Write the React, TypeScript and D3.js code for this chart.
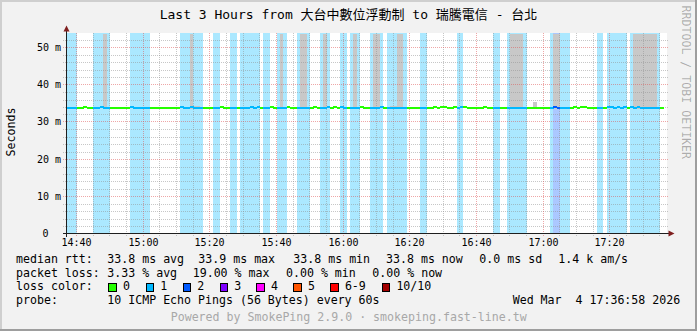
import React from 'react';
import * as d3 from 'd3';

// ---------- data ----------
const titleText = 'Last 3 Hours from 大台中數位浮動制 to 瑞騰電信 - 台北';
const yAxisTitle = 'Seconds';
const watermark = 'RRDTOOL / TOBI OETIKER';
const startTime = '14:37';
const endTime = '17:37';
const dataEnd = '17:36';
const yMax = 53.76;

const xMajorTicks = ['14:40', '15:00', '15:20', '15:40', '16:00', '16:20', '16:40', '17:00', '17:20'];
const yTickValues = [0, 10, 20, 30, 40, 50];
const yTickLabels = ['0', '10 m', '20 m', '30 m', '40 m', '50 m'];

// loss runs: start, end, lost pings (of 10)
const lossStarts = ['14:37', '14:45', '14:56', '15:11', '15:21', '15:26', '15:29', '15:36', '15:40', '15:46', '15:53', '15:59', '16:02', '16:08', '16:13', '16:23', '16:34', '16:45', '16:49', '17:02', '17:03', '17:05', '17:16', '17:19', '17:26'];
const lossEnds = ['14:40', '14:50', '15:02', '15:18', '15:23', '15:28', '15:35', '15:38', '15:43', '15:50', '15:56', '16:01', '16:05', '16:12', '16:19', '16:25', '16:36', '16:47', '16:55', '17:03', '17:05', '17:08', '17:18', '17:25', '17:35'];
const lossCounts = [1, 1, 1, 1, 1, 1, 1, 1, 1, 1, 1, 1, 1, 1, 1, 1, 1, 1, 1, 1, 2, 1, 1, 1, 1];

// smoke runs: start, end, low rtt, high rtt (ms)
const smokeStarts = ['14:48', '15:14', '15:15', '15:41', '15:47', '15:54', '16:03', '16:09', '16:14', '16:16', '16:50', '16:57', '17:03', '17:27'];
const smokeEnds = ['14:49', '15:15', '15:17', '15:42', '15:49', '15:55', '16:04', '16:11', '16:16', '16:18', '16:54', '16:58', '17:05', '17:34'];
const smokeLows = [33.4, 33.4, 33.4, 33.4, 33.4, 33.4, 33.4, 33.4, 33.4, 33.4, 33.4, 33.4, 33.4, 33.4];
const smokeHighs = [60, 60, 34.3, 60, 60, 60, 60, 60, 34.4, 60, 60, 35.3, 60, 60];

// median rtt: base value and slightly higher runs
const medianBase = 33.8;
const bumpStarts = ['14:42', '14:47', '14:56', '15:11', '15:14', '15:23', '15:32', '15:34', '15:38', '15:43', '15:51', '15:55', '15:57', '15:59', '16:05', '16:11', '16:27', '16:29', '16:33', '16:35', '16:42', '17:03', '17:09', '17:11', '17:19', '17:22', '17:24', '17:26', '17:28'];
const bumpEnds = ['14:43', '14:48', '14:57', '15:12', '15:15', '15:24', '15:33', '15:35', '15:39', '15:44', '15:52', '15:56', '15:58', '16:00', '16:06', '16:12', '16:28', '16:31', '16:34', '16:37', '16:43', '17:04', '17:10', '17:13', '17:21', '17:23', '17:25', '17:27', '17:29'];
const bumpValues = [34.05, 34.05, 34.05, 34.05, 34.05, 34.05, 34.05, 34.05, 34.05, 34.05, 34.05, 34.05, 34.05, 34.05, 34.05, 34.05, 34.05, 34.05, 34.05, 34.05, 34.05, 34.05, 34.05, 34.05, 34.05, 34.05, 34.05, 34.05, 34.05];

const lossColors = ['#26ff00', '#00b8ff', '#0059ff', '#7e00ff', '#ff00ff', '#ff5500', '#ff0000', '#a10000'];
const lossLabels = ['0', '1', '2', '3', '4', '5', '6-9', '10/10'];

const legendRow1 = ['median rtt:', '33.8 ms avg', '33.9 ms max', '33.8 ms min', '33.8 ms now', '0.0 ms sd', '1.4 k am/s'];
const legendRow2 = ['packet loss:', '3.33 % avg', '19.00 % max', '0.00 % min', '0.00 % now'];
const legendRow3Label = 'loss color:';
const legendRow4 = ['probe:', '10 ICMP Echo Pings (56 Bytes) every 60s'];
const dateText = 'Wed Mar\u00a0\u00a04 17:36:58 2026';
const footerText = 'Powered by SmokePing 2.9.0 · smokeping.fast-line.tw';

// ---------- layout ----------
const W = 697;
const H = 331;
const row1X = [16, 107.3, 198.3, 293.3, 386, 479.3, 558.3];
const row2X = [16, 107.3, 192.7, 286, 372.3];
const row4X = [16, 107.3];
const boxX = [108.3, 145.5, 182.6, 219.5, 256.4, 293.3, 330.2, 381.7];
const rowY = [262.7, 276.5, 290.2, 304];

const mono = "'DejaVu Sans Mono', 'Noto Sans CJK TC', monospace";

const tp = (s: string) => {
  const [h, m] = s.split(':').map(Number);
  return new Date(2026, 2, 4, h, m);
};

function lossIndex(n: number) {
  if (n <= 5) return n;
  if (n < 10) return 6;
  return 7;
}

export default function App() {
  const x = d3.scaleTime().domain([tp(startTime), tp(endTime)]).range([66.5, 666.5]);
  const y = d3.scaleLinear().domain([0, yMax]).range([233.5, 33.5]);

  const plotTop = 33;
  const plotBottom = 233.5;

  const minutes: Date[] = d3.timeMinute.range(tp(startTime), tp(dataEnd));
  const lossAt = (d: Date) => {
    for (let i = 0; i < lossStarts.length; i++) {
      if (d >= tp(lossStarts[i]) && d < tp(lossEnds[i])) return lossCounts[i];
    }
    return 0;
  };
  const medianAt = (d: Date) => {
    for (let i = 0; i < bumpStarts.length; i++) {
      if (d >= tp(bumpStarts[i]) && d < tp(bumpEnds[i])) return bumpValues[i];
    }
    return medianBase;
  };

  const minorX = d3.timeMinute
    .every(5)!
    .range(tp('14:40'), tp(endTime))
    .filter((d) => d.getMinutes() % 20 !== 0);
  const majorX = xMajorTicks.map(tp);
  const minorY = d3.range(2, yMax, 2).filter((v) => v % 10 !== 0);
  const majorY = yTickValues.filter((v) => v > 0);

  const gridMinor = 'rgba(143,143,143,0.5)';
  const gridMajor = 'rgba(222,79,79,0.5)';

  return (
    <svg
      width={W}
      height={H}
      style={{ position: 'absolute', left: 0, top: 0, display: 'block' }}
      xmlns="http://www.w3.org/2000/svg"
    >
      <rect x={0} y={0} width={W} height={H} fill="#f2f2f2" />
      <rect x={0} y={0} width={W} height={2} fill="#cfcfcf" />
      <rect x={0} y={0} width={2} height={H} fill="#cfcfcf" />
      <rect x={0} y={H - 2} width={W} height={2} fill="#9e9e9e" />
      <rect x={W - 2} y={0} width={2} height={H} fill="#9e9e9e" />

      <rect x={67} y={plotTop} width={600} height={plotBottom - plotTop} fill="#ffffff" />

      <g shapeRendering="crispEdges">
        {lossStarts.map((s, i) => (
          <rect
            key={'l' + i}
            x={x(tp(s))}
            y={plotTop}
            width={x(tp(lossEnds[i])) - x(tp(s))}
            height={plotBottom - plotTop}
            fill={lossColors[lossIndex(lossCounts[i])]}
            fillOpacity={0.33}
          />
        ))}
      </g>

      <g shapeRendering="crispEdges">
        {smokeStarts.map((s, i) => {
          const top = Math.max(plotTop, y(Math.min(smokeHighs[i], yMax)));
          const bot = y(smokeLows[i]);
          return (
            <rect
              key={'s' + i}
              x={x(tp(s))}
              y={top}
              width={x(tp(smokeEnds[i])) - x(tp(s))}
              height={bot - top}
              fill="#c8c8c8"
            />
          );
        })}
      </g>

      <g strokeDasharray="1,1" strokeWidth={1} shapeRendering="crispEdges">
        {minorY.map((v) => (
          <line key={'my' + v} x1={63} x2={669} y1={Math.round(y(v)) + 0.5} y2={Math.round(y(v)) + 0.5} stroke={gridMinor} />
        ))}
        {minorX.map((d, i) => (
          <line key={'mx' + i} x1={Math.floor(x(d)) + 0.5} x2={Math.floor(x(d)) + 0.5} y1={plotTop} y2={plotBottom + 2} stroke={gridMinor} />
        ))}
        {majorY.map((v) => (
          <line key={'My' + v} x1={63} x2={669} y1={Math.floor(y(v)) + 0.5} y2={Math.floor(y(v)) + 0.5} stroke={gridMajor} />
        ))}
        {majorX.map((d, i) => (
          <line key={'Mx' + i} x1={Math.floor(x(d)) + 0.5} x2={Math.floor(x(d)) + 0.5} y1={plotTop} y2={plotBottom + 3} stroke={gridMajor} />
        ))}
      </g>

      <g shapeRendering="crispEdges">
        {minutes.map((d, i) => {
          const v = medianAt(d);
          const c = lossColors[lossIndex(lossAt(d))];
          const x0 = x(d);
          const x1 = x(d3.timeMinute.offset(d, 1));
          return <rect key={'m' + i} x={x0} y={y(v) - 1} width={x1 - x0 + 0.4} height={2} fill={c} />;
        })}
      </g>

      <g stroke="#1f1f1f" strokeWidth={1} shapeRendering="crispEdges">
        <line x1={66.5} x2={66.5} y1={31} y2={plotBottom + 3} />
        <line x1={63} x2={670} y1={233.5} y2={233.5} />
      </g>
      <path d="M66.5,25.5 L63.5,31.5 L69.5,31.5 Z" fill="#7f1f1f" />
      <path d="M674.5,233.5 L668.5,230.5 L668.5,236.5 Z" fill="#7f1f1f" />

      <g fontFamily={mono} fontSize={10} fill="#000">
        {yTickValues.map((v, i) => (
          <text key={'yl' + v} x={v === 0 ? 48.5 : 61} y={y(v) + 3.5} textAnchor="end">
            {yTickLabels[i]}
          </text>
        ))}
        {majorX.map((d, i) => (
          <text key={'xl' + i} x={Math.floor(x(d)) + 0.5} y={246} textAnchor="middle">
            {xMajorTicks[i]}
          </text>
        ))}
      </g>

      <text x={348.5} y={19} textAnchor="middle" fontFamily={mono} fontSize={13} fill="#000">
        {titleText}
      </text>

      <text
        transform="translate(15,132) rotate(-90)"
        textAnchor="middle"
        fontFamily={mono}
        fontSize={11.6}
        fill="#000"
      >
        {yAxisTitle}
      </text>

      <text
        transform="translate(682,5.5) rotate(90)"
        fontFamily={mono}
        fontSize={11.6}
        fill="#000"
        fillOpacity={0.3}
      >
        {watermark}
      </text>

      <g fontFamily={mono} fontSize={11.6} fill="#000">
        {legendRow1.map((s, i) => (
          <text key={'r1' + i} x={row1X[i]} y={rowY[0]}>{s}</text>
        ))}
        {legendRow2.map((s, i) => (
          <text key={'r2' + i} x={row2X[i]} y={rowY[1]}>{s}</text>
        ))}
        <text x={16} y={rowY[2]}>{legendRow3Label}</text>
        {lossLabels.map((s, i) => (
          <g key={'lc' + i}>
            <rect x={boxX[i] + 0.5} y={283.5} width={7.5} height={8} fill={lossColors[i]} stroke="#000" strokeWidth={1} shapeRendering="crispEdges" />
            <text x={boxX[i] + 14.7} y={rowY[2]}>{s}</text>
          </g>
        ))}
        {legendRow4.map((s, i) => (
          <text key={'r4' + i} x={row4X[i]} y={rowY[3]}>{s}</text>
        ))}
        <text x={512.7} y={rowY[3]} xmlSpace="preserve" style={{ whiteSpace: 'pre' }}>{dateText}</text>
        <text x={348.7} y={320.7} textAnchor="middle" fill="#a8a8a8">{footerText}</text>
      </g>
    </svg>
  );
}
